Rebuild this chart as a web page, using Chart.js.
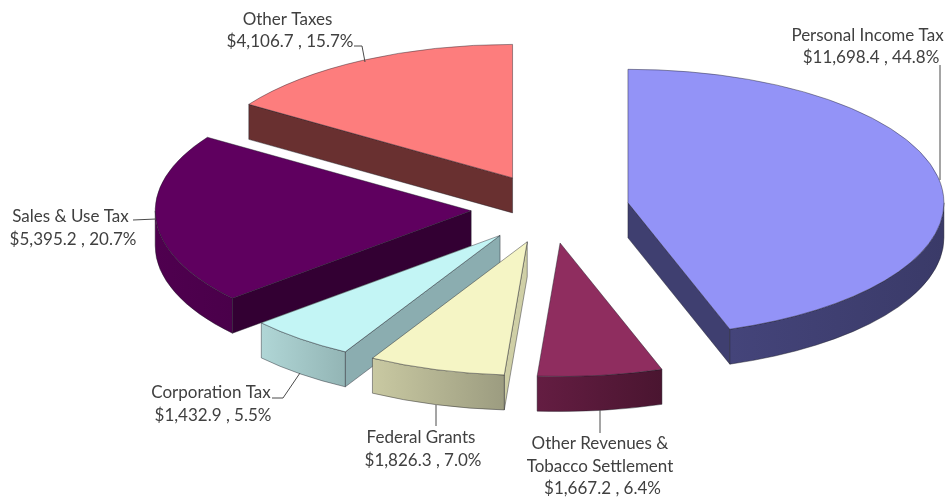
<!DOCTYPE html>
<html>
<head>
<meta charset="utf-8">
<title>Revenue by source</title>
<script src="https://cdn.jsdelivr.net/npm/chart.js@4"></script>
<style>
    html, body { margin: 0; padding: 0; background: #fff; }
    #chartBox { position: relative; width: 945px; height: 499px; }
</style>
</head>
<body>
<div id="chartBox"><canvas id="revenueChart"></canvas></div>
<script>
const categories = ['Personal Income Tax', 'Other Revenues & Tobacco Settlement', 'Federal Grants', 'Corporation Tax', 'Sales & Use Tax', 'Other Taxes'];
const amounts = [11698.4, 1667.2, 1826.3, 1432.9, 5395.2, 4106.7];
const percents = ['44.8%', '6.4%', '7.0%', '5.5%', '20.7%', '15.7%'];
const amountLabels = ['$11,698.4', '$1,667.2', '$1,826.3', '$1,432.9', '$5,395.2', '$4,106.7'];

const topColors = ['#9393f7', '#8f2d5f', '#f5f5c5', '#c3f5f5', '#5f005f', '#fd7d7d'];
const cutColors = ['#3f3f70', '#4f1733', '#cfcfa6', '#8badb0', '#330033', '#693030'];
const wallLight = ['#44447a', '#641d42', '#c9c9a2', '#b0d6d6', '#4f004f', '#693030'];
const wallDark = ['#3a3a68', '#4a1530', '#9c9c80', '#93b5b5', '#4a004a', '#693030'];

const squash = 0.4225;
const explodeSquash = 0.44;
const depth = 35;
const explode = 79;
const edgeColor = 'rgba(30,30,40,0.55)';

// text blocks, one per slice: name lines are centred on x, first baseline at y
const labelBlocks = [
    { x: 867.5, y: 40.5, amountX: 871, lines: ['Personal Income Tax', 0] },
    { x: 600, y: 449, amountX: 602.5, lines: ['Other Revenues &', 'Tobacco Settlement', 0] },
    { x: 421, y: 443, amountX: 423, lines: ['Federal Grants', 0] },
    { x: 211, y: 398, amountX: 213, lines: ['Corporation Tax', 0] },
    { x: 70.5, y: 222, amountX: 73, lines: ['Sales & Use Tax', 0] },
    { x: 287.5, y: 24.5, amountX: 290, lines: ['Other Taxes', 0] }
];

const leaderLines = [
    [[940, 65], [940, 180]],
    [[600, 410], [600, 433]],
    [[436, 405], [436, 426]],
    [[272, 398], [283, 398], [300, 373]],
    [[133, 220], [156, 219]],
    [[354, 46], [362, 46], [365, 62]]
];

function sectorPath(ctx, arc, ax, ay)
{
    // same outline as the arc element, flattened onto the tilted plane
    ctx.beginPath();
    ctx.moveTo(ax, ay);
    ctx.ellipse(ax, ay, arc.outerRadius, arc.outerRadius * squash, 0, arc.startAngle, arc.endAngle);
    ctx.closePath();
}

function drawCutFace(ctx, ax, ay, r, angle, color)
{
    let ex = ax + Math.cos(angle) * r;
    let ey = ay + Math.sin(angle) * r * squash;
    ctx.beginPath();
    ctx.moveTo(ax, ay);
    ctx.lineTo(ex, ey);
    ctx.lineTo(ex, ey + depth);
    ctx.lineTo(ax, ay + depth);
    ctx.closePath();
    ctx.fillStyle = color;
    ctx.fill();
    ctx.strokeStyle = edgeColor;
    ctx.lineWidth = 0.8;
    ctx.stroke();
}

function drawOuterWall(ctx, ax, ay, arc, index)
{
    let from = Math.max(arc.startAngle, 0);
    let to = Math.min(arc.endAngle, Math.PI);
    if (to <= from) return;

    let r = arc.outerRadius;
    let x1 = ax + Math.cos(from) * r;
    let x2 = ax + Math.cos(to) * r;
    let gradient = ctx.createLinearGradient(x2, 0, x1, 0);
    gradient.addColorStop(0, wallLight[index]);
    gradient.addColorStop(1, wallDark[index]);

    ctx.beginPath();
    ctx.ellipse(ax, ay, r, r * squash, 0, from, to);
    ctx.ellipse(ax, ay + depth, r, r * squash, 0, to, from, true);
    ctx.closePath();
    ctx.fillStyle = gradient;
    ctx.fill();
    ctx.strokeStyle = edgeColor;
    ctx.lineWidth = 0.8;
    ctx.stroke();
}

const tiltedPie = {
    id: 'tiltedPie',
    beforeDatasetsDraw(chart)
    {
        const ctx = chart.ctx;
        const arcs = chart.getDatasetMeta(0).data;
        // back to front so nearer slices sit over farther ones
        const drawOrder = [5, 4, 3, 2, 1, 0];

        drawOrder.forEach(function(i)
        {
            const arc = arcs[i];
            const mid = (arc.startAngle + arc.endAngle) / 2;
            const ax = arc.x + Math.cos(mid) * explode;
            const ay = arc.y + Math.sin(mid) * explode * explodeSquash;
            const r = arc.outerRadius;

            if (Math.cos(arc.startAngle) < -0.001) drawCutFace(ctx, ax, ay, r, arc.startAngle, cutColors[i]);
            if (Math.cos(arc.endAngle) > 0.001) drawCutFace(ctx, ax, ay, r, arc.endAngle, cutColors[i]);
            drawOuterWall(ctx, ax, ay, arc, i);

            ctx.save();
            ctx.translate(ax, ay);
            ctx.scale(1, squash);
            ctx.translate(-arc.x, -arc.y);
            arc.draw(ctx);
            ctx.restore();

            sectorPath(ctx, arc, ax, ay);
            ctx.strokeStyle = edgeColor;
            ctx.lineWidth = 0.8;
            ctx.stroke();
        });
        return false;
    },
    afterDraw(chart)
    {
        const ctx = chart.ctx;

        ctx.strokeStyle = '#4a4a4a';
        ctx.lineWidth = 1;
        leaderLines.forEach(function(points)
        {
            ctx.beginPath();
            points.forEach(function(p, n)
            {
                if (n == 0) ctx.moveTo(p[0], p[1]);
                else ctx.lineTo(p[0], p[1]);
            });
            ctx.stroke();
        });

        ctx.fillStyle = '#404040';
        ctx.font = '17px Lato';
        ctx.textAlign = 'center';
        ctx.textBaseline = 'alphabetic';
        labelBlocks.forEach(function(block, i)
        {
            block.lines.forEach(function(line, n)
            {
                let y = block.y + n * 22.5;
                if (line === 0) ctx.fillText(amountLabels[i] + ' , ' + percents[i], block.amountX, y);
                else ctx.fillText(line, block.x, y);
            });
        });
    }
};

new Chart(document.getElementById('revenueChart').getContext('2d'), {
    type: 'pie',
    data: {
        labels: categories,
        datasets: [{
            data: amounts,
            backgroundColor: topColors,
            borderWidth: 0,
            radius: 316
        }]
    },
    options: {
        responsive: true,
        maintainAspectRatio: false,
        animation: false,
        layout: { padding: { left: 155, bottom: 82 } },
        plugins: {
            legend: { display: false },
            tooltip: { enabled: false }
        }
    },
    plugins: [tiltedPie]
});
</script>
</body>
</html>
